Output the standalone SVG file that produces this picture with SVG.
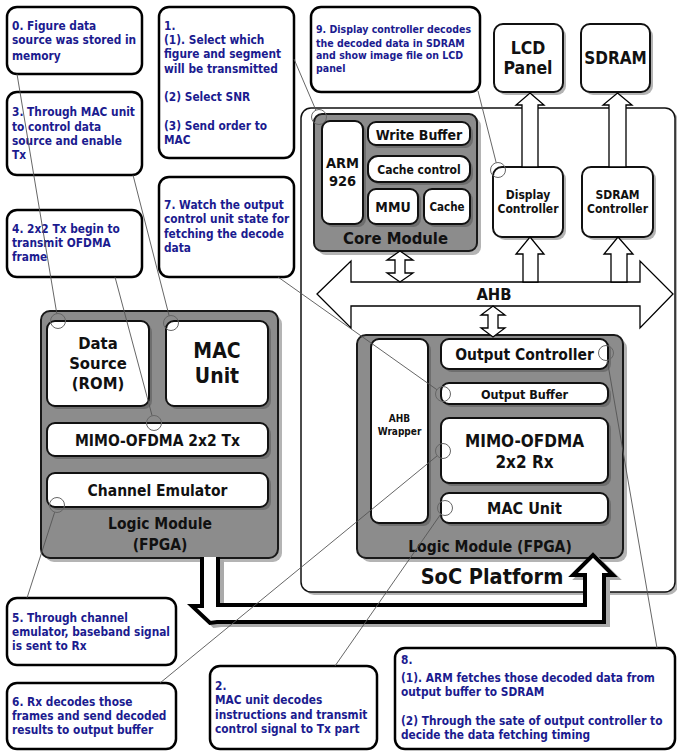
<svg xmlns="http://www.w3.org/2000/svg" width="677" height="752" viewBox="0 0 677 752">
<style>
.c{font-family:"DejaVu Sans Condensed","DejaVu Sans",sans-serif;font-weight:bold;font-size:11.8px;fill:#1b1b8f}
.c9{font-size:10.5px}
.n{font-family:"DejaVu Sans Condensed","DejaVu Sans",sans-serif;font-weight:bold;fill:#111;text-anchor:middle}
.call{fill:#fff;stroke:#000;stroke-width:2.5}
.mod{fill:#8c8c8c;stroke:#1a1a1a;stroke-width:2}
.box{fill:#fff;stroke:#111;stroke-width:2}
.shw{fill:#b4b4b4}
.shd{fill:#6e6e6e}
.arr{fill:#fff;stroke:#000;stroke-width:1.3;stroke-linejoin:miter}
.lead{stroke:#555;stroke-width:0.9;fill:none}
.ring{stroke:#666;stroke-width:1;fill:none}
</style>

<!-- SoC platform -->
<g id="soc">
<rect class="shw" x="304" y="111" width="374" height="484" rx="10"/>
<rect x="301" y="108" width="374" height="484" rx="10" fill="#fff" stroke="#111" stroke-width="1.5"/>
<text class="n" x="492" y="584" font-size="21.5">SoC Platform</text>
</g>

<!-- Top memory/panel -->
<g id="lcd">
<rect class="shw" x="497" y="27" width="69" height="68" rx="9"/>
<rect class="box" x="494" y="24" width="69" height="68" rx="9"/>
<text class="n" x="528" y="53.5" font-size="17.5">LCD</text>
<text class="n" x="528" y="73.5" font-size="17.5">Panel</text>
</g>
<g id="sdram">
<rect class="shw" x="584" y="27" width="69" height="68" rx="9"/>
<rect class="box" x="581" y="24" width="69" height="68" rx="9"/>
<text class="n" x="615.5" y="64" font-size="17">SDRAM</text>
</g>

<!-- Callout boxes -->
<g id="note0">
<rect class="call" x="7" y="7" width="135" height="67" rx="10"/>
<text class="c" x="12" y="29.5">0. Figure data</text>
<text class="c" x="12" y="43.5">source was stored in</text>
<text class="c" x="12" y="60">memory</text>
</g>
<g id="note1">
<rect class="call" x="159" y="7" width="135" height="151" rx="10"/>
<text class="c" x="164" y="29.5">1.</text>
<text class="c" x="164" y="44">(1). Select which</text>
<text class="c" x="164" y="58">figure and segment</text>
<text class="c" x="164" y="72.5">will be transmitted</text>
<text class="c" x="164" y="101">(2) Select SNR</text>
<text class="c" x="164" y="130">(3) Send order to</text>
<text class="c" x="164" y="144">MAC</text>
</g>
<g id="note3">
<rect class="call" x="7" y="92" width="135" height="83" rx="10"/>
<text class="c" x="12" y="116">3. Through MAC unit</text>
<text class="c" x="12" y="130.5">to control data</text>
<text class="c" x="12" y="145">source and enable</text>
<text class="c" x="12" y="159">Tx</text>
</g>
<g id="note4">
<rect class="call" x="7" y="210" width="135" height="67" rx="10"/>
<text class="c" x="12" y="233">4. 2x2 Tx begin to</text>
<text class="c" x="12" y="247">transmit OFDMA</text>
<text class="c" x="12" y="261">frame</text>
</g>
<g id="note7">
<rect class="call" x="159" y="177" width="135" height="100" rx="10"/>
<text class="c" x="164" y="209">7. Watch the output</text>
<text class="c" x="164" y="223">control unit state for</text>
<text class="c" x="164" y="237.5">fetching the decode</text>
<text class="c" x="164" y="251.5">data</text>
</g>
<g id="note9">
<rect class="call" x="311" y="7" width="169" height="85" rx="10"/>
<text class="c c9" x="316" y="33">9. Display controller decodes</text>
<text class="c c9" x="316" y="46.5">the decoded data in SDRAM</text>
<text class="c c9" x="316" y="59">and show image file on LCD</text>
<text class="c c9" x="316" y="72">panel</text>
</g>
<g id="note5">
<rect class="call" x="7" y="598" width="169" height="67" rx="10"/>
<text class="c" x="12" y="621.5">5. Through channel</text>
<text class="c" x="12" y="636">emulator, baseband signal</text>
<text class="c" x="12" y="650">is sent to Rx</text>
</g>
<g id="note6">
<rect class="call" x="7" y="683" width="169" height="66" rx="10"/>
<text class="c" x="12" y="706">6. Rx decodes those</text>
<text class="c" x="12" y="720">frames and send decoded</text>
<text class="c" x="12" y="734">results to output buffer</text>
</g>
<g id="note2">
<rect class="call" x="210" y="666" width="167" height="83" rx="10"/>
<text class="c" x="215" y="690">2.</text>
<text class="c" x="215" y="704">MAC unit decodes</text>
<text class="c" x="215" y="718.5">instructions and transmit</text>
<text class="c" x="215" y="732.5">control signal to Tx part</text>
</g>
<g id="note8">
<rect class="call" x="395" y="648" width="280" height="101" rx="10"/>
<text class="c" x="401" y="664">8.</text>
<text class="c" x="401" y="682">(1). ARM fetches those decoded data from</text>
<text class="c" x="401" y="696">output buffer to SDRAM</text>
<text class="c" x="401" y="725">(2) Through the sate of output controller to</text>
<text class="c" x="401" y="739">decide the data fetching timing</text>
</g>

<!-- Core module -->
<g id="core">
<rect class="shw" x="318" y="118" width="163" height="137" rx="8"/>
<rect class="mod" x="314" y="114" width="163" height="137" rx="8"/>
<rect class="shd" x="325" y="124" width="41" height="103" rx="8"/>
<rect class="box" x="322" y="121" width="41" height="103" rx="8"/>
<text class="n" x="342.5" y="168" font-size="14.5">ARM</text>
<text class="n" x="342.5" y="186" font-size="14.5">926</text>
<rect class="shd" x="371" y="125" width="102" height="23" rx="8"/>
<rect class="box" x="368" y="122" width="102" height="23" rx="8"/>
<text class="n" x="419" y="139.5" font-size="14">Write Buffer</text>
<rect class="shd" x="371" y="159" width="102" height="26" rx="10"/>
<rect class="box" x="368" y="156" width="102" height="26" rx="10"/>
<text class="n" x="419" y="173.5" font-size="12">Cache control</text>
<rect class="shd" x="371" y="192" width="50" height="35" rx="8"/>
<rect class="box" x="368" y="189" width="50" height="35" rx="8"/>
<text class="n" x="393" y="211.5" font-size="14">MMU</text>
<rect class="shd" x="427" y="192" width="46" height="35" rx="8"/>
<rect class="box" x="424" y="189" width="46" height="35" rx="8"/>
<text class="n" x="447" y="210.5" font-size="11.5">Cache</text>
<text class="n" x="395.5" y="244" font-size="16.5">Core Module</text>
</g>

<g id="dispctrl">
<rect class="shw" x="496" y="170" width="70" height="70" rx="9"/>
<rect class="box" x="493" y="167" width="70" height="70" rx="9"/>
<text class="n" x="528" y="198.5" font-size="12">Display</text>
<text class="n" x="528" y="212.5" font-size="12">Controller</text>
</g>
<g id="sdramctrl">
<rect class="shw" x="585" y="170" width="71" height="70" rx="9"/>
<rect class="box" x="582" y="167" width="71" height="70" rx="9"/>
<text class="n" x="617.5" y="198.5" font-size="12">SDRAM</text>
<text class="n" x="617.5" y="212.5" font-size="12">Controller</text>
</g>

<!-- AHB bus -->
<g id="ahb">
<polygon class="arr" points="317,294 351,261 351,282 640,282 640,261 673,294 640,328 640,306 351,306 351,328"/>
<text class="n" x="494" y="300" font-size="16.5">AHB</text>
</g>

<!-- Left logic module -->
<g id="fpga-left">
<rect class="shw" x="45" y="315" width="237" height="247" rx="9"/>
<rect class="mod" x="41" y="311" width="237" height="247" rx="9"/>
<rect class="shd" x="50" y="324" width="102" height="85" rx="8"/>
<rect class="box" x="47" y="321" width="102" height="85" rx="8"/>
<text class="n" x="98" y="349" font-size="16.5">Data</text>
<text class="n" x="98" y="369" font-size="16.5">Source</text>
<text class="n" x="98" y="389" font-size="16.5">(ROM)</text>
<rect class="shd" x="169" y="324" width="102" height="85" rx="8"/>
<rect class="box" x="166" y="321" width="102" height="85" rx="8"/>
<text class="n" x="217" y="357.5" font-size="21">MAC</text>
<text class="n" x="217" y="382.5" font-size="21">Unit</text>
<rect class="shd" x="50" y="426" width="221" height="33" rx="8"/>
<rect class="box" x="47" y="423" width="221" height="33" rx="8"/>
<text class="n" x="157.5" y="445.5" font-size="15.5">MIMO-OFDMA 2x2 Tx</text>
<rect class="shd" x="50" y="476" width="221" height="34" rx="8"/>
<rect class="box" x="47" y="473" width="221" height="34" rx="8"/>
<text class="n" x="157.5" y="495.5" font-size="15.5">Channel Emulator</text>
<text class="n" x="160" y="528.5" font-size="15.5">Logic Module</text>
<text class="n" x="160" y="549.5" font-size="15.5">(FPGA)</text>
</g>

<!-- Right logic module -->
<g id="fpga-right">
<rect class="shw" x="361" y="339" width="266" height="223" rx="9"/>
<rect class="mod" x="357" y="335" width="266" height="223" rx="9"/>
<rect class="shd" x="374" y="342" width="57" height="184" rx="8"/>
<rect class="box" x="371" y="339" width="57" height="184" rx="8"/>
<text class="n" x="399.5" y="422" font-size="10">AHB</text>
<text class="n" x="399.5" y="435" font-size="10">Wrapper</text>
<rect class="shd" x="444" y="342" width="167" height="30" rx="8"/>
<rect class="box" x="441" y="339" width="167" height="30" rx="8"/>
<text class="n" x="524.5" y="359.5" font-size="15.5">Output Controller</text>
<rect class="shd" x="444" y="386" width="167" height="21" rx="8"/>
<rect class="box" x="441" y="383" width="167" height="21" rx="8"/>
<text class="n" x="524.5" y="398.5" font-size="12.5">Output Buffer</text>
<rect class="shd" x="444" y="421" width="167" height="65" rx="8"/>
<rect class="box" x="441" y="418" width="167" height="65" rx="8"/>
<text class="n" x="524.5" y="447" font-size="17">MIMO-OFDMA</text>
<text class="n" x="524.5" y="468" font-size="17">2x2 Rx</text>
<rect class="shd" x="444" y="496" width="167" height="30" rx="8"/>
<rect class="box" x="441" y="493" width="167" height="30" rx="8"/>
<text class="n" x="524.5" y="514" font-size="16">MAC Unit</text>
<text class="n" x="490" y="552" font-size="15.5">Logic Module (FPGA)</text>
</g>

<!-- Connectors -->
<g id="connectors">
<polygon class="arr" points="530,93 544,105 538,105 538,167 522,167 522,105 516,105"/>
<polygon class="arr" points="617.5,93 632,105 626,105 626,167 609,167 609,105 603,105"/>
<polygon class="arr" points="530,237 544,254 538,254 538,282 523,282 523,254 516,254"/>
<polygon class="arr" points="618,237 633,254 627,254 627,282 611,282 611,254 604,254"/>
<polygon class="arr" points="400,251 413,260 405,260 405,273 413,273 400,282 387,273 395,273 395,260 387,260"/>
<polygon class="arr" points="493,306 505,315 498,315 498,328 505,328 493,337 481,328 488,328 488,315 481,315"/>
<path d="M206,560 V609 H196 L214,626 L221,625 H608 V578 H617 L597,558 L577,578 H589 V608 H222 V560" fill="none" stroke="#aaa" stroke-width="4"/>
<path d="M202,557 V606 H192 L210,623 L217,622 H604 V575 H613 L593,555 L573,575 H585 V605 H218 V557" fill="#fff" stroke="#000" stroke-width="4" stroke-linejoin="miter"/>
<line class="lead" x1="17" y1="74" x2="56.8" y2="313.6"/>
<circle class="ring" cx="58" cy="321" r="7.5"/>
<line class="lead" x1="133" y1="175" x2="169.1" y2="315.7"/>
<circle class="ring" cx="171" cy="323" r="7.5"/>
<line class="lead" x1="115" y1="277" x2="152.1" y2="415.7"/>
<circle class="ring" cx="154" cy="423" r="7.5"/>
<line class="lead" x1="294" y1="59" x2="315.9" y2="110.2"/>
<circle class="ring" cx="319" cy="117" r="7.5"/>
<line class="lead" x1="478" y1="91" x2="496.2" y2="162.7"/>
<circle class="ring" cx="498" cy="170" r="7.5"/>
<line class="lead" x1="278" y1="277" x2="436.9" y2="389.7"/>
<circle class="ring" cx="443" cy="394" r="7.5"/>
<line class="lead" x1="27" y1="598" x2="54.7" y2="512.1"/>
<circle class="ring" cx="57" cy="505" r="7.5"/>
<line class="lead" x1="160" y1="683" x2="437.2" y2="455.8"/>
<circle class="ring" cx="443" cy="451" r="7.5"/>
<line class="lead" x1="335" y1="666" x2="440.7" y2="514.2"/>
<circle class="ring" cx="445" cy="508" r="7.5"/>
<line class="lead" x1="657" y1="648" x2="607.3" y2="360.4"/>
<circle class="ring" cx="606" cy="353" r="7.5"/>
</g>
</svg>
